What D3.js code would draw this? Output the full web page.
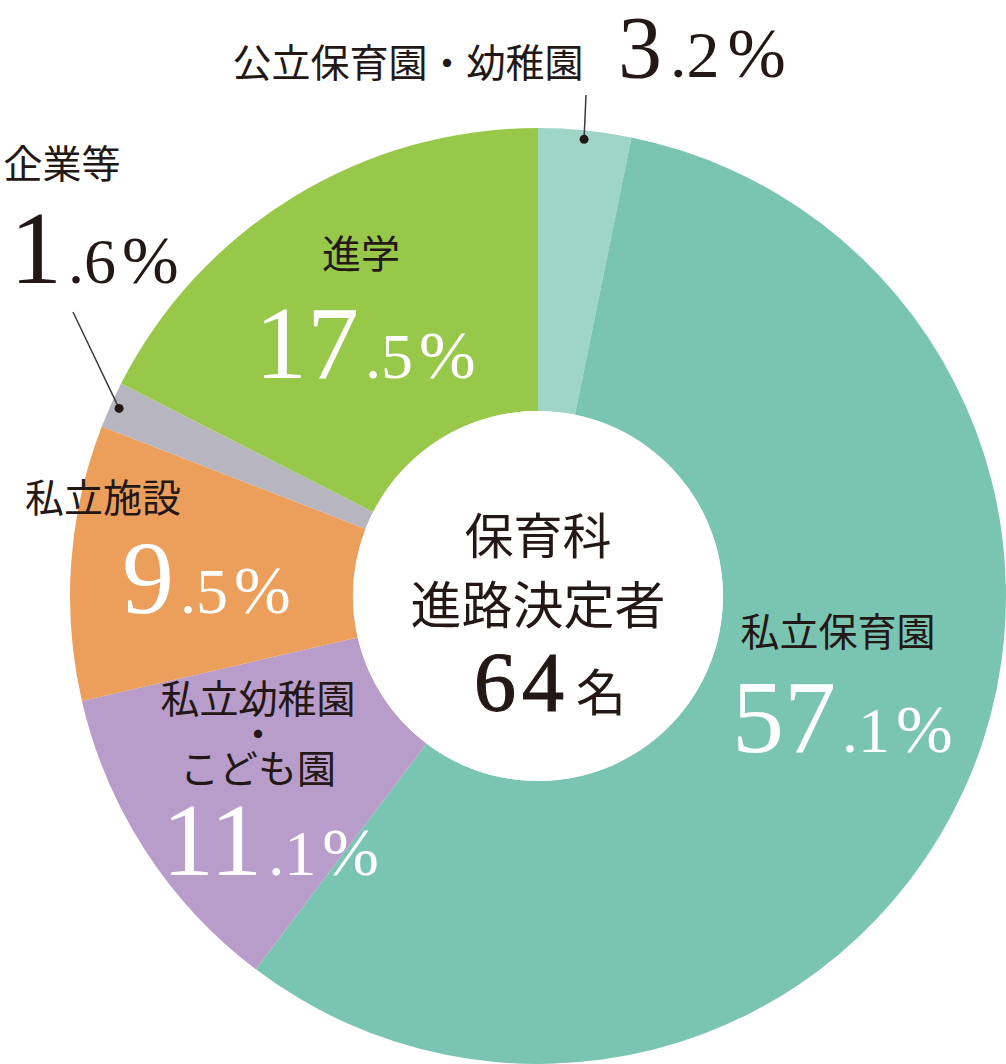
<html>
<head>
<meta charset="utf-8">
<title>保育科 進路決定者</title>
<script src="https://d3js.org/d3.v7.min.js"></script>
<style>
body { margin: 0; background: #fff; }
.jp { font-family: 'Noto Sans CJK JP', sans-serif; fill: #231815; }
.num { font-family: 'Liberation Serif', 'DejaVu Serif', serif; }
</style>
</head>
<body>
<div id="chart"></div>
<script>

var width = 1006;
var height = 1064;

// data, clockwise from 12 o'clock
var categories = ["公立保育園・幼稚園", "私立保育園", "私立幼稚園・こども園", "私立施設", "企業等", "進学"];
var values = [3.2, 57.1, 11.1, 9.5, 1.6, 17.5];
var colors = ["#9fd5c7", "#7ac5b2", "#b89dca", "#ec9f5b", "#b7b5bf", "#98c84a"];
var centerLines = ["保育科", "進路決定者"];
var total = 64;

var cx = 538, cy = 596;
var outerR = 468, innerR = 185;

var svg = d3.select("#chart")
  .append("svg")
  .attr("width", width)
  .attr("height", height);

var g = svg.append("g")
  .attr("transform", "translate(" + cx + "," + cy + ")");

var pie = d3.pie().sort(null).value(d => d);
var arcs = pie(values);

var arc = d3.arc().innerRadius(innerR).outerRadius(outerR);

g.selectAll("path")
  .data(arcs)
  .enter()
  .append("path")
  .attr("d", arc)
  .style("fill", (d, i) => colors[i]);

// white hole
g.append("circle").attr("r", innerR).style("fill", "#fff");

// leader lines for the two small slices
var dotArc = d3.arc().innerRadius(459).outerRadius(459);
var leaders = [
  {i: 0, end: [586, 95]},
  {i: 4, end: [73, 312]}
];
leaders.forEach(function(l) {
  var p = dotArc.centroid(arcs[l.i]);
  svg.append("line")
    .attr("x1", cx + p[0]).attr("y1", cy + p[1])
    .attr("x2", l.end[0]).attr("y2", l.end[1])
    .style("stroke", "#3e3a39")
    .style("stroke-width", 1.5);
  svg.append("circle")
    .attr("cx", cx + p[0]).attr("cy", cy + p[1])
    .attr("r", 4.5)
    .style("fill", "#231815");
});

// label layout: name lines (split on "|") + percentage (big part / small part)
var labelLayout = [
  {i: 0, name: "公立保育園・幼稚園", x: 408, y: 77, num: {x: 618, y: 77, big: 88, small: 66, gap: 8, fill: "#231815"}},
  {i: 1, name: "私立保育園", x: 838, y: 646, num: {x: 732, y: 752, big: 104, small: 64, gap: 6, fill: "#fff"}},
  {i: 2, name: "私立幼稚園|・|こども園", x: 258, y: 713, num: {x: 162, y: 875, big: 104, small: 64, gap: 6, fill: "#fff"}},
  {i: 3, name: "私立施設", x: 103, y: 512, num: {x: 122, y: 613, big: 104, small: 64, gap: 6, fill: "#fff"}},
  {i: 4, name: "企業等", x: 62, y: 178, num: {x: 10, y: 283, big: 104, small: 64, gap: 6, fill: "#231815"}},
  {i: 5, name: "進学", x: 361, y: 268, num: {x: 255, y: 378, big: 104, small: 64, gap: 6, fill: "#fff"}}
];

labelLayout.forEach(function(l) {
  var nt = svg.append("text")
    .attr("class", "jp")
    .attr("text-anchor", "middle")
    .style("font-size", "39px");
  l.name.split("|").forEach(function(s, k) {
    nt.append("tspan")
      .attr("x", l.x)
      .attr("y", l.y + k * 35)
      .text(s);
  });
  var parts = String(values[l.i]).split(".");
  var t = svg.append("text")
    .attr("class", "num")
    .attr("x", l.num.x).attr("y", l.num.y)
    .style("fill", l.num.fill);
  t.append("tspan").style("font-size", l.num.big + "px").text(parts[0]);
  t.append("tspan").style("font-size", l.num.small + "px").attr("dx", l.num.gap).text("." + parts[1]);
  t.append("tspan").style("font-size", (l.num.small + 4) + "px").attr("dx", l.num.gap).text("%");
});

// centre text
centerLines.forEach(function(s, k) {
  svg.append("text")
    .attr("class", "jp")
    .attr("x", cx).attr("y", 554 + k * 70)
    .attr("text-anchor", "middle")
    .style("font-size", k === 0 ? "49px" : "51px")
    .text(s);
});
var ct = svg.append("text")
  .attr("x", cx + 12).attr("y", 711)
  .attr("text-anchor", "middle");
ct.append("tspan").attr("class", "num").style("font-size", "84px").style("fill", "#231815")
  .style("stroke", "#231815").style("stroke-width", 1.2)
  .style("letter-spacing", "6px").text(total);
ct.append("tspan").attr("class", "jp").attr("dx", 6).style("font-size", "50px").text("名");

</script>
</body>
</html>
